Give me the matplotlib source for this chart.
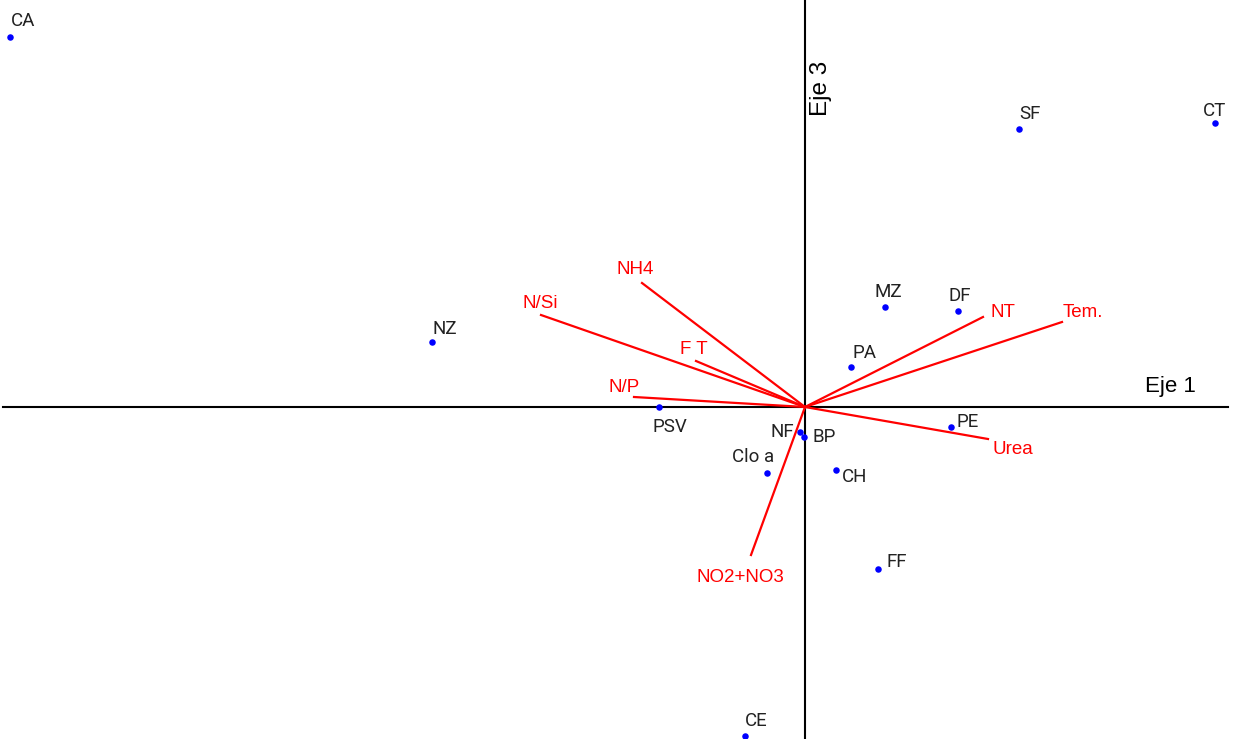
import matplotlib
matplotlib.use('Agg')
import matplotlib.pyplot as plt

# Sample scores (Eje 1, Eje 3)
SITES = ['CA', 'SF', 'CT', 'NZ', 'MZ', 'DF', 'PA', 'PE', 'PSV',
         'NF', 'BP', 'Clo a', 'CH', 'FF', 'CE']
SITE_X = [-7.95, 2.14, 4.10, -3.73, 0.80, 1.53, 0.46, 1.46, -1.46,
          -0.05, -0.01, -0.38, 0.31, 0.73, -0.60]
SITE_Y = [3.70, 2.78, 2.84, 0.65, 1.00, 0.96, 0.40, -0.20, 0.00,
          -0.25, -0.30, -0.66, -0.63, -1.62, -3.29]

# Variable loadings
VARS = ['NH4', 'N/Si', 'F T', 'N/P', 'NT', 'Tem.', 'Urea', 'NO2+NO3']
VAR_X = [-1.63, -2.64, -1.09, -1.71, 1.78, 2.57, 1.83, -0.54]
VAR_Y = [1.24, 0.92, 0.46, 0.10, 0.90, 0.85, -0.32, -1.48]

# label offsets in pixels (dx, dy)
SITE_OFF = [(1, 11), (0, 10), (-12, 7), (0, 8), (-11, 10), (-9, 10), (1, 9),
            (6, 0), (-7, -25), (-30, -5), (8, -5), (-35, 11), (6, -12),
            (8, 2), (0, 10)]
VAR_OFF = [(-25, 9), (-19, 7), (-16, 7), (-26, 5), (7, 0), (1, 5), (5, -15),
           (-55, -27)]


def main():
    fig = plt.figure(figsize=(12.33, 7.39), dpi=100)
    ax = fig.add_axes([0, 0, 1, 1])
    ax.set_xlim(-8.05, 4.28)
    ax.set_ylim(-3.32, 4.07)
    ax.axis('off')

    ax.plot([-8.02, 4.23], [0, 0], color='black', lw=1.5, zorder=1)
    ax.axvline(0, color='black', lw=1.5, zorder=1)

    for name, x, y, (dx, dy) in zip(VARS, VAR_X, VAR_Y, VAR_OFF):
        ax.plot([0, x], [0, y], color='#ff0000', lw=1.6, zorder=2)
        ax.annotate(name, (x, y), xytext=(dx, dy), textcoords='offset pixels',
                    color='#ff0000', fontsize=13.5, family='Liberation Sans',
                    ha='left', va='baseline')

    ax.scatter(SITE_X, SITE_Y, s=22, color='#0000ff', zorder=3, linewidths=0)
    for name, x, y, (dx, dy) in zip(SITES, SITE_X, SITE_Y, SITE_OFF):
        ax.annotate(name, (x, y), xytext=(dx, dy), textcoords='offset pixels',
                    color='#222222', fontsize=13.5, family='Roboto',
                    ha='left', va='baseline')

    ax.text(3.40, 0.15, 'Eje 1', fontsize=16, family='Liberation Sans',
            ha='left', va='baseline')
    ax.text(0.16, 3.19, 'Eje 3', fontsize=17.5, family='Liberation Sans',
            rotation=90, ha='center', va='center')

    fig.savefig('out.png', dpi=100)


if __name__ == '__main__':
    main()
